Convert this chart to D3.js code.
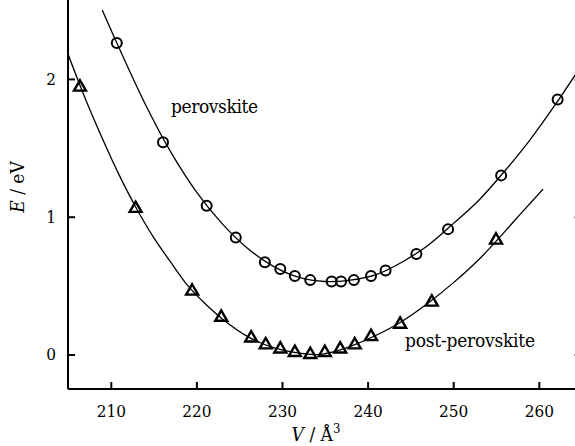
<!DOCTYPE html>
<html><head><meta charset="utf-8">
<script src="https://cdn.jsdelivr.net/npm/d3@7"></script>
<style>body{margin:0;background:#fff}svg{display:block}
svg text{font-family:"DejaVu Serif Condensed","DejaVu Serif",serif !important;font-stretch:condensed;}</style>
</head><body>
<svg id="c" width="575" height="446"></svg>
<script>
// Data
const xTicks = [210, 220, 230, 240, 250, 260];
const yTicks = [0, 1, 2];
const perovV = [210.7, 216.1, 221.2, 224.6, 228.0, 229.8, 231.5, 233.3, 235.8, 236.9, 238.4, 240.4, 242.1, 245.7, 249.4, 255.6, 262.2];
const perovE = [2.26, 1.54, 1.08, 0.85, 0.67, 0.62, 0.57, 0.54, 0.53, 0.53, 0.54, 0.57, 0.61, 0.73, 0.91, 1.30, 1.85];
const postV = [206.4, 212.9, 219.5, 222.9, 226.4, 228.1, 229.8, 231.5, 233.3, 235.0, 236.8, 238.5, 240.4, 243.8, 247.5, 255.0];
const postE = [1.94, 1.06, 0.46, 0.27, 0.12, 0.07, 0.04, 0.015, 0.0, 0.015, 0.04, 0.07, 0.13, 0.22, 0.38, 0.83];
// fitted curves
const perovFitV = [209, 211, 214, 217, 220, 223, 226, 229, 232, 235, 238, 241, 244, 247, 250, 253, 256, 259, 262, 265];
const perovFitE = [2.50, 2.22, 1.82, 1.47, 1.18, 0.95, 0.77, 0.64, 0.56, 0.53, 0.54, 0.58, 0.67, 0.79, 0.95, 1.12, 1.33, 1.56, 1.82, 2.10];
const postFitV = [205, 207, 209, 211, 213, 215, 217, 219, 221, 223, 226, 229, 232, 234, 236, 238, 241, 244, 247, 250, 253, 256, 258, 260.5];
const postFitE = [2.18, 1.86, 1.57, 1.30, 1.06, 0.85, 0.67, 0.50, 0.37, 0.26, 0.13, 0.05, 0.01, 0.00, 0.02, 0.06, 0.14, 0.24, 0.37, 0.52, 0.69, 0.89, 1.03, 1.20];

const svg = d3.select("#c");
const x = d3.scaleLinear().domain([205, 265]).range([68, 581.6]);
const y = d3.scaleLinear().domain([-0.25, 2.5]).range([389, 10]);

svg.append("defs").append("clipPath").attr("id", "clip")
  .append("rect").attr("x", 68).attr("y", 0).attr("width", 520).attr("height", 389);

const line = d3.line().x(d => x(d[0])).y(d => y(d[1])).curve(d3.curveCatmullRom.alpha(0.5));
const g = svg.append("g").attr("clip-path", "url(#clip)");
g.append("path").datum(perovFitV.map((v, i) => [v, perovFitE[i]]))
  .attr("d", line).attr("fill", "none").attr("stroke", "#000").attr("stroke-width", 1.3);
g.append("path").datum(postFitV.map((v, i) => [v, postFitE[i]]))
  .attr("d", line).attr("fill", "none").attr("stroke", "#000").attr("stroke-width", 1.3);

g.selectAll("circle.p").data(perovV.map((v, i) => [v, perovE[i]])).join("circle")
  .attr("cx", d => x(d[0])).attr("cy", d => y(d[1])).attr("r", 5)
  .attr("fill", "none").attr("stroke", "#000").attr("stroke-width", 2);
const tri = d3.symbol().type(d3.symbolTriangle).size(62);
g.selectAll("path.t").data(postV.map((v, i) => [v, postE[i]])).join("path")
  .attr("d", tri).attr("transform", d => `translate(${x(d[0])},${y(d[1])})`)
  .attr("fill", "none").attr("stroke", "#000").attr("stroke-width", 2.4).attr("stroke-linejoin", "miter");

const xAxis = svg.append("g").attr("transform", "translate(0,389)")
  .call(d3.axisBottom(x).tickValues(xTicks).tickSize(-7).tickPadding(16).tickFormat(d3.format("d")));
const yAxis = svg.append("g").attr("transform", "translate(68,0)")
  .call(d3.axisLeft(y).tickValues(yTicks).tickSize(-7).tickPadding(12).tickFormat(d3.format("d")));
const yAxisR = svg.append("g").attr("transform", "translate(581.6,0)")
  .call(d3.axisRight(y).tickValues(yTicks).tickSize(-7).tickFormat(""));
[xAxis, yAxis, yAxisR].forEach(a => {
  a.attr("font-family", null);
  a.select(".domain").attr("stroke-width", 2);
  a.selectAll(".tick line").attr("stroke-width", 2);
  a.selectAll("text").attr("font-size", 17).attr("fill", "#000");
});
xAxis.select(".domain").attr("d", `M68,0H581.6`);
yAxis.select(".domain").attr("d", `M0,389V0`);
yAxisR.select(".domain").attr("d", `M0,389V0`);

svg.append("text").attr("x", 171).attr("y", 113).attr("font-size", 19).attr("textLength", 87).text("perovskite");
svg.append("text").attr("x", 405).attr("y", 347).attr("font-size", 19).attr("textLength", 130).text("post-perovskite");

const yt = svg.append("text").attr("transform", "translate(24,187) rotate(-90)").attr("text-anchor", "middle")
  .attr("font-size", 19);
yt.append("tspan").attr("font-style", "italic").text("E");
yt.append("tspan").text(" / eV");

const xt = svg.append("text").attr("x", 316).attr("y", 441).attr("text-anchor", "middle")
  .attr("font-size", 19);
xt.append("tspan").attr("font-style", "italic").text("V");
xt.append("tspan").text(" / Å");
xt.append("tspan").attr("font-size", 13).attr("dy", -8).text("3");
</script>
</body></html>
